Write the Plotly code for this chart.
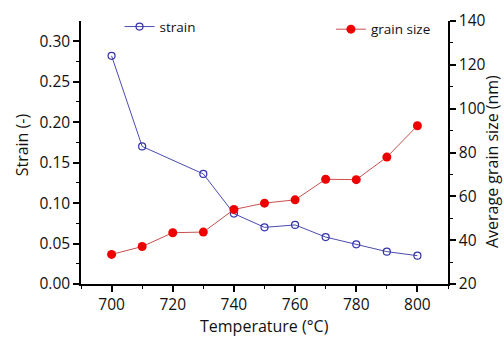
import plotly.graph_objects as go

temps_strain = [700, 710, 730, 740, 750, 760, 770, 780, 790, 800]
strain = [0.282, 0.170, 0.136, 0.087, 0.070, 0.073, 0.058, 0.049, 0.040, 0.035]
temps_grain = [700, 710, 720, 730, 740, 750, 760, 770, 780, 790, 800]
grain = [33.5, 37.1, 43.4, 43.7, 54.0, 56.9, 58.4, 67.8, 67.6, 77.9, 92.2]

font = "Open Sans"
fig = go.Figure()
fig.add_trace(go.Scatter(
    x=temps_strain, y=strain, name="strain", mode="lines+markers",
    line=dict(color="#4b4bb0", width=1),
    marker=dict(symbol="circle-open", size=7, color="#3333aa", line=dict(width=1.2)),
    legend="legend", showlegend=True))
fig.add_trace(go.Scatter(
    x=temps_grain, y=grain, name="grain size", mode="lines+markers",
    line=dict(color="#c85050", width=1),
    marker=dict(symbol="circle", size=9, color="#ee0000"),
    yaxis="y2", legend="legend2", showlegend=True))

axis_common = dict(showline=True, linecolor="black", linewidth=1.5, ticks="outside",
                   ticklen=6, tickwidth=1.5, tickcolor="black", showgrid=False,
                   zeroline=False, automargin=False,
                   tickfont=dict(family=font, size=15.5, color="#111"))
minor_common = dict(ticks="outside", ticklen=3, tickwidth=1, tickcolor="black")

title_font = dict(family=font, size=16, color="#111")
annotations = [
    dict(text="Temperature (°C)", x=0.501, y=-0.158, xref="paper", yref="paper",
         xanchor="center", yanchor="middle", showarrow=False, font=title_font),
    dict(text="Strain (-)", x=-0.1608, y=0.531, xref="paper", yref="paper",
         xanchor="center", yanchor="middle", showarrow=False, textangle=-90, font=title_font),
    dict(text="Average grain size (nm)", x=1.118, y=0.465, xref="paper", yref="paper",
         xanchor="center", yanchor="middle", showarrow=False, textangle=-90, font=title_font),
]

fig.update_layout(
    width=504, height=340, margin=dict(l=81, r=56, t=11, b=56),
    plot_bgcolor="white", paper_bgcolor="white", showlegend=True,
    font=dict(family=font, color="#111"),
    xaxis=dict(range=[690, 810], tickvals=[700, 720, 740, 760, 780, 800],
               minor=dict(tickvals=[690, 710, 730, 750, 770, 790, 810], **minor_common),
               **axis_common),
    yaxis=dict(range=[0, 0.325], tickvals=[0, 0.05, 0.10, 0.15, 0.20, 0.25, 0.30],
               tickformat=".2f",
               minor=dict(tickvals=[0.025, 0.075, 0.125, 0.175, 0.225, 0.275], **minor_common),
               **axis_common),
    yaxis2=dict(range=[20, 140], tickvals=[20, 40, 60, 80, 100, 120, 140],
                overlaying="y", side="right",
                minor=dict(tickvals=[30, 50, 70, 90, 110, 130], **minor_common),
                **axis_common),
    legend=dict(x=0.105, y=0.978, xanchor="left", yanchor="middle", bgcolor="rgba(0,0,0,0)",
                font=dict(family=font, size=13.5)),
    legend2=dict(x=0.681, y=0.968, xanchor="left", yanchor="middle", bgcolor="rgba(0,0,0,0)",
                 font=dict(family=font, size=13.5)),
    annotations=annotations,
)
fig.write_html("out.html")
